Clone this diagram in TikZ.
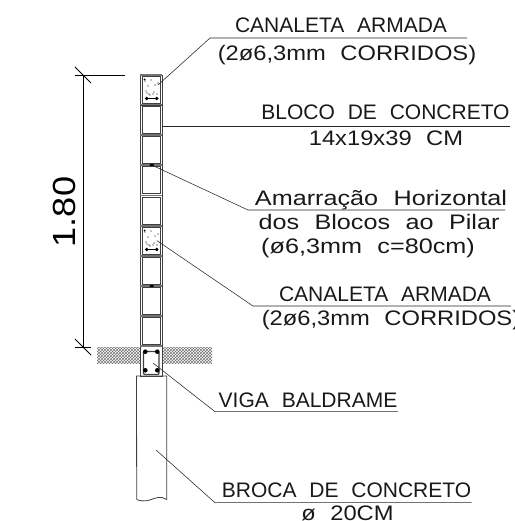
\documentclass[tikz,border=0pt]{standalone}
\usepackage{fontspec}
\setmainfont[WordSpace=2.2]{Liberation Sans}
\newfontfamily\widefont[WordSpace=2.2,FakeStretch=1.13]{Liberation Sans}
\newfontfamily\widerfont[WordSpace=2.2,FakeStretch=1.2]{Liberation Sans}
\usetikzlibrary{patterns}
\tikzset{
	leader/.style={draw=black!85, line width=0.55pt},
	wall/.style={draw=black!75, line width=0.7pt},
	dimline/.style={draw=black, line width=0.75pt},
	caption/.style={anchor=base, inner sep=0pt, font=\fontsize{21}{21}\selectfont, text=black!90},
	captionw/.style={caption, font=\fontsize{21}{21}\selectfont\widefont},
	captionx/.style={caption, font=\fontsize{21}{21}\selectfont\widerfont},
}
\begin{document}
\begin{tikzpicture}[x=1pt,y=-1pt]
		\useasboundingbox (0,0) rectangle (514,521);
		
		% terreno
		\fill[pattern=crosshatch, pattern color=black!55] (97,347) rectangle (212,363);
		\fill[white] (140,347) rectangle (162,376);
		
		% blocos
		\foreach \ytop in {75,104.5,135,165,195.5,226,256,286,316}
		{
			\draw[wall] (140,\ytop) rectangle (162,\ytop+30);
			\draw[wall, line width=0.9pt] (142.5,\ytop+1.5) rectangle (160.5,\ytop+28.5);
			\fill[black!55] (140,\ytop-0.8) rectangle (162,\ytop+0.8);
		}
		
		% canaletas
		\foreach \ytop in {75,226}
		{
			\fill[white] (143.5,\ytop+2) rectangle (159.5,\ytop+27);
			\foreach \dx/\dy in {5/6,8/11,11/5,14/17,7/18,10/20,13/19,17/19,18/8,9/19,6/16,15/10}
				\fill (140+\dx,\ytop+\dy) circle (0.65);
			\draw[line width=0.9pt] (145,\ytop+23.5) -- (158,\ytop+23.5);
			\fill (146.7,\ytop+23.5) circle (1.8);
			\fill (156.7,\ytop+23.5) circle (1.8);
			\fill (144.5,\ytop+4.5) circle (1);
		}
		
		% viga
		\draw[wall, line width=0.9pt] (140,346) rectangle (162,376);
		\fill[black!55] (140,345.2) rectangle (162,346.8);
		\draw[wall, line width=1.1pt, rounded corners=1pt] (143.5,351.5) rectangle (159,374.5);
		\foreach \bx/\by in {145.3/351.7,157.3/351.7,145.3/370.3,157.3/370.3}
			\fill (\bx,\by) circle (2.3);
		
		% broca
		\draw[wall, line width=0.8pt] (136.7,499.5) -- (136.5,376) -- (166.7,376) -- (166.7,499.5)
			.. controls (161,495.5) and (155,498) .. (150,500)
			.. controls (145,501.5) and (140,501) .. (136.7,499.5);
		
		% cota
		\coordinate (dim_top) at (83.3,75.3);
		\coordinate (dim_bot) at (83.3,347);
		\draw[dimline] (dim_top) -- (dim_bot);
		\draw[dimline] (75,75.3) -- (125,75.3);
		\draw[dimline] (75,347) -- (91,347);
		\draw[dimline] (75,67) -- (91,83);
		\draw[dimline] (75,339) -- (91,355);
		\node[rotate=90, anchor=base, inner sep=0pt, font=\fontsize{32}{32}\selectfont\widefont] (height) at (75.5,212) {1.80};
		
		% legendas
		\node[caption] (canaleta_a) at (341,33) {CANALETA ARMADA};
		\node[captionw] (corridos_a) at (347,60.5) {(2ø6,3mm CORRIDOS)};
		\node[caption] (bloco) at (385.5,120) {BLOCO DE CONCRETO};
		\node[captionw] (bloco_dim) at (386,145.5) {14x19x39 CM};
		\node[captionx] (amarracao) at (381,205) {Amarração Horizontal};
		\node[captionx] (blocos_pilar) at (379,229) {dos Blocos ao Pilar};
		\node[captionx] (amarracao_dim) at (368,253) {(ø6,3mm c=80cm)};
		\node[caption] (canaleta_b) at (385,301.5) {CANALETA ARMADA};
		\node[captionw] (corridos_b) at (391,325) {(2ø6,3mm CORRIDOS)};
		\node[caption] (viga) at (308,407) {VIGA BALDRAME};
		\node[caption] (broca) at (346.5,497) {BROCA DE CONCRETO};
		\node[captionw] (broca_dim) at (347.5,520) {ø 20CM};
		
		% linhas de chamada
		\coordinate (canaleta_a_p) at (158,85);
		\coordinate (canaleta_a_k) at (210,38);
		\coordinate (canaleta_a_e) at (467,38);
		\coordinate (bloco_p) at (162,126);
		\coordinate (bloco_e) at (510,126);
		\coordinate (amarracao_p) at (151.7,165);
		\coordinate (amarracao_k) at (248,210);
		\coordinate (amarracao_e) at (505,210);
		\coordinate (canaleta_b_p) at (157,240.7);
		\coordinate (canaleta_b_k) at (253,306);
		\coordinate (canaleta_b_e) at (511,306);
		\coordinate (viga_p) at (153,363);
		\coordinate (viga_k) at (215,411.7);
		\coordinate (viga_e) at (398,411.7);
		\coordinate (broca_p) at (156,450);
		\coordinate (broca_k) at (215,502.7);
		\coordinate (broca_e) at (471.7,502.7);
		
		\draw[leader] (canaleta_a_p) -- (canaleta_a_k) -- (canaleta_a_e);
		\draw[leader] (bloco_p) -- (bloco_e);
		\draw[leader] (amarracao_p) -- (amarracao_k) -- (amarracao_e);
		\draw[leader] (canaleta_b_p) -- (canaleta_b_k) -- (canaleta_b_e);
		\draw[leader] (viga_p) -- (viga_k) -- (viga_e);
		\draw[leader] (broca_p) -- (broca_k) -- (broca_e);
		\fill (amarracao_p) ellipse (2.2 and 1.2);
		\fill (151.7,286) ellipse (2.2 and 1.2);
	\end{tikzpicture}
\end{document}
